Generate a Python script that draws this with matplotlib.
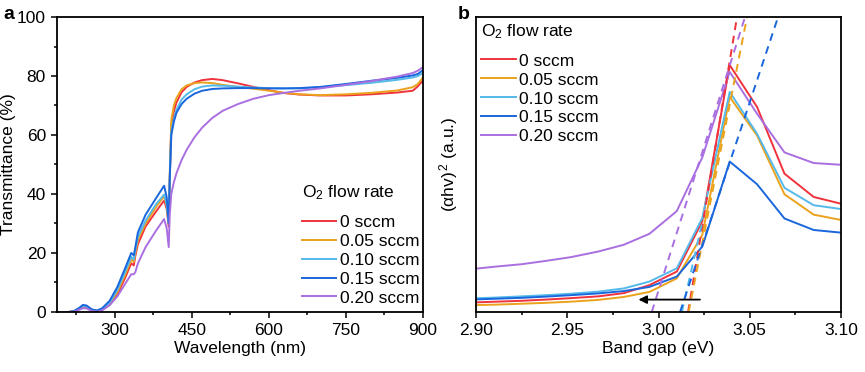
import matplotlib
matplotlib.use("Agg")
import matplotlib.pyplot as plt
from matplotlib.ticker import MultipleLocator, FormatStrFormatter

plt.rcParams["font.family"] = ["Liberation Sans", "DejaVu Sans"]
plt.rcParams["mathtext.fontset"] = "custom"
plt.rcParams["mathtext.rm"] = "Liberation Sans"
plt.rcParams["mathtext.it"] = "Liberation Sans:italic"

LABELS = ["0 sccm", "0.05 sccm", "0.10 sccm", "0.15 sccm", "0.20 sccm"]
COLORS = ["#f0323c", "#eba21c", "#55b9ea", "#1a66dc", "#a96fe0"]

# --- panel a: transmittance spectra ---
wl = [188, 210, 220, 230, 238, 245, 255, 265, 275, 290, 305, 320, 332, 337, 340, 345,
      360, 380, 396, 401, 405, 407, 410, 415, 420, 430, 440, 455, 470, 490, 510, 540,
      570, 600, 630, 660, 700, 750, 800, 850, 880, 890, 900]
t_0 = [0, 0, 0.2, 1.0, 1.8, 1.6, 0.6, 0.3, 0.8, 2.5, 6.0, 11.5, 16.5, 15.8, 19, 23,
       29, 34, 37.8, 35, 29, 45, 63, 68, 71, 74.5, 76.3, 77.8, 78.6, 79, 78.6, 77.5,
       76.3, 75.2, 74.2, 73.7, 73.4, 73.4, 73.8, 74.4, 75, 76.5, 78.5]
t_005 = [0, 0, 0.2, 1.0, 1.9, 1.7, 0.6, 0.3, 0.9, 2.8, 6.8, 12.5, 17.8, 17, 20, 24.5,
         30, 35.5, 39.3, 36, 30, 47, 65, 70, 72.5, 75.5, 76.8, 77.6, 77.8, 77.6, 77, 76.3,
         75.7, 75, 74.3, 73.8, 73.5, 73.8, 74.3, 75.1, 76.2, 77.3, 79.5]
t_010 = [0, 0, 0.2, 1.1, 2.1, 1.9, 0.7, 0.4, 1.0, 3.2, 7.5, 13.5, 18.7, 17.8, 21, 25.5,
         31, 36.5, 39.8, 36.5, 30, 46, 61, 65.5, 68.5, 72, 73.8, 75.5, 76.4, 76.8, 76.7, 76.4,
         76.1, 75.9, 75.8, 75.8, 76.2, 76.9, 77.7, 78.7, 79.5, 80, 81]
t_015 = [0, 0, 0.3, 1.3, 2.4, 2.2, 0.9, 0.5, 1.2, 3.8, 8.5, 14.8, 20, 19.2, 22, 27,
         33, 38.5, 42.8, 39, 30, 45, 60, 64.5, 67.5, 70.5, 72.3, 74, 75, 75.6, 75.8, 75.9,
         75.9, 75.8, 75.8, 75.9, 76.3, 77.3, 78.4, 79.4, 80.2, 80.7, 82]
t_020 = [0, 0, 0.1, 0.7, 1.3, 1.2, 0.4, 0.1, 0.5, 2.3, 5.3, 9.5, 12.8, 12.8, 13.5, 16.5,
         22, 27.5, 31.5, 28.5, 22, 33, 40, 44, 47, 51.5, 55, 59.2, 62.5, 65.8, 68.2, 70.5,
         72.3, 73.5, 74.3, 75, 75.8, 77, 78.3, 79.8, 81, 81.8, 83]

# --- panel b: Tauc plot ---
ev = [2.897, 2.911, 2.925, 2.938, 2.952, 2.967, 2.981, 2.995, 3.010, 3.024, 3.039,
      3.054, 3.069, 3.085, 3.100]
a_0 = [3.2, 3.5, 3.8, 4.2, 4.7, 5.3, 6.4, 9.1, 13.7, 30.8, 83.7, 69.5, 46.9, 39.0, 36.7]
a_005 = [2.3, 2.5, 2.8, 3.1, 3.5, 4.1, 5.1, 6.8, 11.4, 26.2, 72.9, 59.8, 39.9, 33.0, 31.2]
a_010 = [4.6, 4.9, 5.3, 5.7, 6.2, 6.9, 8.0, 10.3, 14.8, 31.9, 74.6, 60.4, 42.1, 36.2, 34.9]
a_015 = [4.2, 4.5, 4.8, 5.2, 5.7, 6.3, 7.1, 8.5, 12.0, 22.2, 51.0, 43.3, 31.7, 27.8, 26.9]
a_020 = [14.5, 15.4, 16.2, 17.3, 18.6, 20.5, 22.8, 26.5, 34.2, 52.4, 81.4, 67.2, 54.1, 50.5, 49.9]

# linear fits (x at y-start, x at y-end, y-start, y-end)
fit_x0 = [3.0162, 3.0165, 3.0128, 3.0118, 2.9963]
fit_x1 = [3.0430, 3.0485, 3.0245, 3.0655, 3.0474]
fit_y0 = [0, 0, 0, 0, 0]
fit_y1 = [100, 100, 32, 100, 100]
shift_from, shift_to, shift_y = 3.0227, 2.989, 4.2

FS = 12.5
fig = plt.figure(figsize=(8.65, 3.72), dpi=100)
axa = fig.add_axes([0.0659, 0.1613, 0.4231, 0.7930])
axb = fig.add_axes([0.5503, 0.1613, 0.4220, 0.7930])

for ys, c, lab in zip([t_0, t_005, t_010, t_015, t_020], COLORS, LABELS):
    axa.plot(wl, ys, color=c, lw=1.4, label=lab)
axa.set_xlim(187.5, 900)
axa.set_ylim(0, 100)
axa.xaxis.set_major_locator(MultipleLocator(150))
axa.xaxis.set_minor_locator(MultipleLocator(75))
axa.yaxis.set_major_locator(MultipleLocator(20))
axa.yaxis.set_minor_locator(MultipleLocator(10))
axa.set_xlabel("Wavelength (nm)", fontsize=FS, labelpad=2)
axa.set_ylabel("Transmittance (%)", fontsize=FS)
axa.yaxis.set_label_coords(-0.112, 0.5)
leg = axa.legend(title="O$_2$ flow rate", loc="lower right", frameon=False, fontsize=FS,
                 title_fontsize=FS, handlelength=2.0, handletextpad=0.2, labelspacing=0.22,
                 borderpad=0.1, borderaxespad=0.1, bbox_to_anchor=(1.0, 0.01))
leg._legend_box.align = "left"
leg._legend_box.sep = 9

for ys, c, lab in zip([a_0, a_005, a_010, a_015, a_020], COLORS, LABELS):
    axb.plot(ev, ys, color=c, lw=1.4, label=lab)
for x0, x1, y0, y1, c in zip(fit_x0, fit_x1, fit_y0, fit_y1, COLORS):
    axb.plot([x0, x1], [y0, y1], color=c, lw=1.4, ls=(0, (4, 3)))
axb.annotate("", xy=(shift_to, shift_y), xytext=(shift_from, shift_y),
             arrowprops=dict(arrowstyle="-|>", color="black", lw=1.3, mutation_scale=12,
                             shrinkA=0, shrinkB=0))
axb.set_xlim(2.90, 3.10)
axb.set_ylim(0, 100)
axb.xaxis.set_major_locator(MultipleLocator(0.05))
axb.xaxis.set_minor_locator(MultipleLocator(0.025))
axb.xaxis.set_major_formatter(FormatStrFormatter("%.2f"))
axb.set_yticks([])
axb.set_xlabel("Band gap (eV)", fontsize=FS, labelpad=2)
axb.set_ylabel("(αhv)$^{\\,2}$ (a.u.)", fontsize=FS)
axb.yaxis.set_label_coords(-0.045, 0.5)
leg = axb.legend(title="O$_2$ flow rate", loc="upper left", frameon=False, fontsize=FS,
                 title_fontsize=FS, handlelength=2.0, handletextpad=0.2, labelspacing=0.22,
                 borderpad=0.1, borderaxespad=0.2)
leg._legend_box.align = "left"
leg._legend_box.sep = 9

for ax in (axa, axb):
    for s in ax.spines.values():
        s.set_linewidth(1.3)
    ax.tick_params(which="both", direction="out", labelsize=12.5, width=1.1,
                   top=False, right=False)
    ax.tick_params(which="major", length=4.5)
    ax.tick_params(which="minor", length=2.5)

fig.text(0.004, 0.985, "a", fontsize=14, fontweight="bold", va="top")
fig.text(0.529, 0.985, "b", fontsize=14, fontweight="bold", va="top")

fig.savefig("out.png", dpi=100, facecolor="white")
